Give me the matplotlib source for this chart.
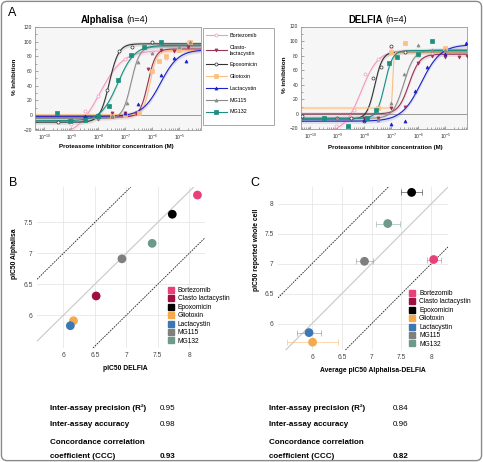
import numpy as np
import matplotlib
matplotlib.use("Agg")
from matplotlib import pyplot as plt
from matplotlib.lines import Line2D
from matplotlib.patches import FancyBboxPatch, Rectangle
from matplotlib.ticker import FixedLocator, LogLocator, MultipleLocator, NullFormatter

plt.rcParams["font.family"] = ["Liberation Sans", "DejaVu Sans"]

W, H = 483, 462

compounds = ["Bortezomib", "Clasto lactacystin", "Epoxomicin", "Gliotoxin",
             "Lactacystin", "MG115", "MG132"]
a_legend = ["Bortezomib", "Clasto-\nlactacystin", "Epoxomicin", "Gliotoxin",
            "Lactacystin", "MG115", "MG132"]

# panel A: 4PL fit parameters (log IC50, hill, bottom, top)
al_logic50 = [-7.96, -6.17, -7.60, -6.09, -5.70, -6.79, -7.28]
al_hill = [1.0, 3.0, 2.5, 3.5, 1.3, 2.8, 1.4]
al_bottom = [-30, -3, -10, 0, -2, -5, -8]
al_top = [88, 90, 97, 88, 89, 93, 95]

de_logic50 = [-8.12, -6.35, -7.62, -6.95, -5.90, -6.55, -7.25]
de_hill = [1.4, 2.2, 3.0, 20, 1.2, 2.2, 3.0]
de_bottom = [-25, 0, -7, 8, -10, -6, -6]
de_top = [87, 82, 85, 85, 95, 88, 87]

# panel A: measured points (log10 M, % inhibition)
al_logc = [
    [-9.0, -8.5, -8.0, -7.0, -6.0, -5.5, -4.7],
    [-8.0, -7.5, -7.0, -6.6, -6.17, -5.7, -5.2, -4.7],
    [-10.5, -9.5, -9.0, -8.5, -7.7, -7.25, -6.75, -6.0],
    [-7.5, -7.0, -6.5, -6.0, -5.75, -5.5, -5.0, -4.6],
    [-8.5, -8.0, -7.5, -7.0, -6.54, -5.7, -5.2, -4.77],
    [-9.0, -8.5, -8.0, -7.5, -6.96, -6.53, -6.0, -5.0, -4.6],
    [-9.54, -9.07, -8.5, -8.0, -7.62, -7.28, -6.78, -6.3, -5.7],
]
al_pct = [
    [-13, 5, 26, 76, 86, 78, 100],
    [-5, 3, 3, 2, 63, 88, 87, 92],
    [-12, -10, -7, -3, 34, 87, 93, 100],
    [-2, 0, 3, 60, 73, 80, 88, 100],
    [-1, 0, -1, 2, 15, 54, 77, 74],
    [-6, -5, -4, -2, 16, 72, 84, 92, 100],
    [2, -9, -7, -2, 12, 48, 82, 92, 100],
]
de_logc = [
    [-9.05, -8.38, -7.97, -7.49, -7.0, -6.5, -6.0, -5.5],
    [-8.0, -7.5, -7.0, -6.5, -6.0, -5.5, -5.0, -4.5, -4.2],
    [-10.3, -9.5, -9.0, -8.5, -8.0, -7.7, -7.4, -7.0, -6.5],
    [-7.5, -7.0, -6.5, -6.0, -5.0],
    [-8.0, -7.0, -6.5, -6.13, -5.67, -5.0, -4.25],
    [-9.5, -9.0, -7.5, -7.0, -6.55, -6.0, -5.5, -5.0],
    [-9.5, -8.6, -7.9, -7.58, -7.1, -6.8, -6.0, -5.5],
]
de_pct = [
    [-17, 6, 55, 75, 92, 85, 80, 82],
    [-5, -6, 8, 10, 70, 80, 78, 78, 80],
    [-3, -5, -6, -5, -10, 50, 65, 93, 85],
    [8, 85, 98, 82, 90],
    [-9, -14, -10, 32, 64, 82, 97],
    [-5, -5, -8, 15, 55, 95, 88, 88],
    [-6, -17, -6, 5, 70, 78, 82, 100],
]

# panel B
b_delfia = [8.13, 6.52, 7.73, 6.16, 6.11, 6.93, 7.41]
b_alpha = [7.94, 6.31, 7.63, 5.91, 5.83, 6.91, 7.16]

# panel C (no whole cell value for clasto lactacystin)
c_names = ["Bortezomib", "Epoxomicin", "Gliotoxin", "Lactacystin", "MG115", "MG132"]
c_avg = [8.04, 7.67, 6.01, 5.95, 6.88, 7.27]
c_cell = [7.07, 8.19, 5.69, 5.85, 7.04, 7.67]
c_err = [0.12, 0.18, 0.43, 0.20, 0.15, 0.20]

stats_labels = ["Inter-assay precision (R²)", "Inter-assay accuracy",
                "Concordance correlation", "coefficient (CCC)"]
stats_b = ["0.95", "0.98", "", "0.93"]
stats_c = ["0.84", "0.96", "", "0.82"]

a_colors = ["#f39ac0", "#9b3356", "#333333", "#fbbf80", "#1f24c8", "#8c8c8c", "#1b8f80"]
a_markers = ["o", "v", "o", "s", "^", "^", "s"]
a_mfc = ["white", None, "white", None, None, None, None]
s_colors = ["#e8417a", "#a0103f", "#000000", "#f5a94d", "#3a78b5", "#7f7f7f", "#6e9a8c"]


def rect(l, t, r, b):
    return [l / W, 1 - b / H, (r - l) / W, (b - t) / H]


def fx(x):
    return x / W


def fy(y):
    return 1 - y / H


def four_pl(x, logic50, hill, bottom, top):
    return bottom + (top - bottom) / (1 + 10 ** ((logic50 - x) * hill))


def dose_panel(ax, logic50, hill, bottom, top, logc, pct):
    xs = np.linspace(-10.35, -4.2, 400)
    ax.set_facecolor("#f6f6f6")
    ax.axhline(0, color="#999999", lw=0.7, zorder=1)
    for i in range(len(compounds)):
        ys = four_pl(xs, logic50[i], hill[i], bottom[i], top[i])
        ax.fill_between(10 ** xs, ys - 3, ys + 3, color=a_colors[i], alpha=0.12, lw=0)
        ax.plot(10 ** xs, ys, color=a_colors[i], lw=0.8, zorder=2)
        ax.plot(10 ** np.array(logc[i]), pct[i], ls="none", marker=a_markers[i],
                ms=2.2, color=a_colors[i], mfc=a_mfc[i] or a_colors[i],
                mew=0.5, zorder=3)
    ax.set_xscale("log")
    ax.set_xlim(10 ** -10.35, 10 ** -4.2)
    ax.set_ylim(-20, 120)
    ax.set_yticks(range(-20, 121, 20))
    ax.yaxis.set_minor_locator(MultipleLocator(10))
    ax.xaxis.set_major_locator(FixedLocator([10.0 ** e for e in range(-10, -4)]))
    ax.xaxis.set_minor_locator(LogLocator(base=10, subs=np.arange(2, 10), numticks=20))
    ax.xaxis.set_minor_formatter(NullFormatter())
    ax.tick_params(which="both", direction="in", labelsize=3.6, width=0.4,
                   colors="#666666", labelcolor="#333333", pad=2)
    ax.tick_params(which="major", length=2.5)
    ax.tick_params(which="minor", length=1.5)
    for s in ax.spines.values():
        s.set_color("#999999")
        s.set_linewidth(0.6)


def pic50_panel(ax, xlim, ylim, yticks, leg_xy):
    ax.set_xlim(*xlim)
    ax.set_ylim(*ylim)
    ax.set_xticks([6, 6.5, 7, 7.5, 8])
    ax.set_xticklabels(["6", "6.5", "7", "7.5", "8"])
    ax.set_yticks(yticks)
    ax.set_yticklabels([("%g" % v) for v in yticks])
    ax.grid(True, color="#e6e6e6", lw=0.6)
    ax.set_axisbelow(True)
    for s in ax.spines.values():
        s.set_visible(False)
    ax.tick_params(length=0, labelsize=4.8, labelcolor="#444444", pad=3)
    ax.axline((6, 6), slope=1, color="#c8c8c8", lw=0.8, zorder=1)
    ax.axline((6, 7), slope=1, color="#222222", lw=0.6, ls=(0, (2, 1.2)), zorder=1)
    ax.axline((6, 5), slope=1, color="#222222", lw=0.6, ls=(0, (2, 1.2)), zorder=1)
    handles = [Line2D([], [], ls="none", marker="s", ms=5, color=c) for c in s_colors]
    fig.legend(handles, compounds, frameon=False, fontsize=4.8, loc="upper left",
               bbox_to_anchor=(fx(leg_xy[0]), fy(leg_xy[1])), handletextpad=0.5,
               labelspacing=0.22, borderaxespad=0, borderpad=0, handlelength=1.0)


fig = plt.figure(figsize=(W / 100, H / 100), dpi=100)

ax_al = fig.add_axes(rect(35, 27, 201, 129.5))
dose_panel(ax_al, al_logic50, al_hill, al_bottom, al_top, al_logc, al_pct)
ax_de = fig.add_axes(rect(301, 26.5, 467, 128.5))
dose_panel(ax_de, de_logic50, de_hill, de_bottom, de_top, de_logc, de_pct)

handles = [Line2D([], [], color=a_colors[i], lw=0.8, marker=a_markers[i], ms=2.2,
                  mfc=a_mfc[i] or a_colors[i], mew=0.5) for i in range(len(compounds))]
fig.legend(handles, a_legend, loc="upper left", bbox_to_anchor=(fx(206), fy(33)),
           fontsize=3.9, frameon=False, labelspacing=1.25, handlelength=3.8,
           handletextpad=0.6, borderpad=0, borderaxespad=0)
fig.patches.append(Rectangle((fx(203), fy(125)), fx(71), 97 / H, transform=fig.transFigure,
                             fill=True, facecolor="white", edgecolor="#999999", lw=0.6,
                             zorder=-1))

fig.text(fx(124), fy(20), "Alphalisa", ha="right", va="center", fontsize=6.9, fontweight="bold")
fig.text(fx(126), fy(20), "(n=4)", ha="left", va="center", fontsize=6.6)
fig.text(fx(383), fy(20), "DELFIA", ha="right", va="center", fontsize=6.9, fontweight="bold")
fig.text(fx(385), fy(20), "(n=4)", ha="left", va="center", fontsize=6.6)
fig.text(fx(15), fy(77), "% Inhibition", rotation=90, ha="center", va="center",
         fontsize=4.6, fontweight="bold")
fig.text(fx(285), fy(75), "% inhibition", rotation=90, ha="center", va="center",
         fontsize=4.6, fontweight="bold")
fig.text(fx(116), fy(146), "Proteasome inhibitor concentration (M)", ha="center",
         va="center", fontsize=4.4, fontweight="bold")
fig.text(fx(385), fy(147), "Proteasome inhibitor concentration (M)", ha="center",
         va="center", fontsize=4.4, fontweight="bold")

ax_b = fig.add_axes(rect(37, 187, 205, 348))
pic50_panel(ax_b, (5.58, 8.25), (5.47, 8.07), [6, 6.5, 7, 7.5], (168, 287))
ax_b.scatter(b_delfia, b_alpha, s=40, c=s_colors, edgecolors="none", zorder=3)

ax_c = fig.add_axes(rect(278, 187, 448, 350))
pic50_panel(ax_c, (5.43, 8.28), (5.56, 8.28), [6, 6.5, 7, 7.5, 8], (409, 290))
for i, name in enumerate(c_names):
    col = s_colors[compounds.index(name)]
    ax_c.errorbar(c_avg[i], c_cell[i], xerr=c_err[i], fmt="none", ecolor=col,
                  alpha=0.45, capsize=2.2, elinewidth=0.7, capthick=0.7, zorder=2)
    ax_c.scatter(c_avg[i], c_cell[i], s=40, color=col, edgecolors="none", zorder=3)

fig.text(fx(15), fy(254), "pIC50 Alphalisa", rotation=90, ha="center", va="center",
         fontsize=4.9, fontweight="bold")
fig.text(fx(125), fy(368), "pIC50 DELFIA", ha="center", va="center",
         fontsize=4.9, fontweight="bold")
fig.text(fx(256), fy(250), "pIC50 reported whole cell", rotation=90, ha="center",
         va="center", fontsize=4.9, fontweight="bold")
fig.text(fx(373), fy(370), "Average pIC50 Alphalisa-DELFIA", ha="center", va="center",
         fontsize=4.9, fontweight="bold")

fig.text(fx(8), fy(13), "A", fontsize=9, va="center")
fig.text(fx(9), fy(183), "B", fontsize=9, va="center")
fig.text(fx(250), fy(183), "C", fontsize=9, va="center")

rows_y = [408, 425, 442, 456]
for i, lab in enumerate(stats_labels):
    fig.text(fx(50), fy(rows_y[i]), lab, fontsize=5.8, fontweight="bold", va="center")
    fig.text(fx(269), fy(rows_y[i]), lab, fontsize=5.8, fontweight="bold", va="center")
    w = "bold" if i == 3 else "normal"
    fig.text(fx(160), fy(rows_y[i]), stats_b[i], fontsize=5.8, fontweight=w, va="center")
    fig.text(fx(393), fy(rows_y[i]), stats_c[i], fontsize=5.8, fontweight=w, va="center")

fig.patches.append(FancyBboxPatch((0.003, 0.003), 0.994, 0.994,
                                  boxstyle="round,pad=0,rounding_size=0.012",
                                  transform=fig.transFigure, fill=False,
                                  edgecolor="#8a8a8a", lw=1.0))

fig.savefig("out.png", dpi=100)
